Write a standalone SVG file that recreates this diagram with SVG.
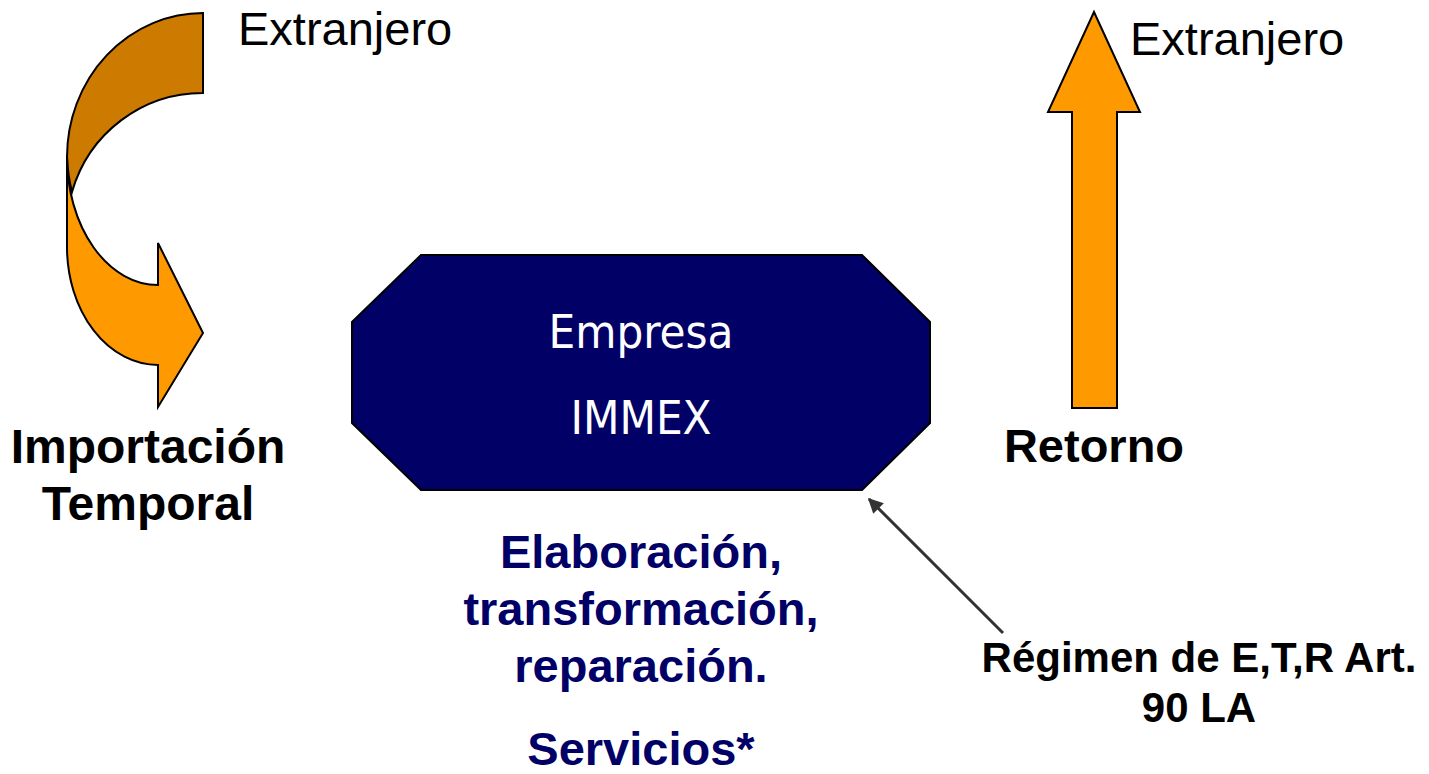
<svg xmlns="http://www.w3.org/2000/svg" width="1429" height="774" viewBox="0 0 1429 774">
<style>
.lbl{font-family:"Liberation Sans",Arial,sans-serif;font-size:47px;fill:#000}
.b{font-weight:bold}
.navy{fill:#000066}
.in{font-family:"DejaVu Sans Condensed","DejaVu Sans",sans-serif;font-size:47px;fill:#fff}
.sh{stroke:#000;stroke-width:2;stroke-linejoin:miter}
</style>
<defs>
<marker id="ah" viewBox="0 0 10 10" refX="9" refY="5" markerWidth="5" markerHeight="5" orient="auto" markerUnits="strokeWidth">
<path d="M0,0 L10,5 L0,10 Z" fill="#333"/>
</marker>
</defs>
<rect width="1429" height="774" fill="#fff"/>
<g id="curved-arrow">
<path class="sh" fill="#CC7A00" d="M203,13 A136,144 0 0 0 67,157 A91,128 0 0 0 72,192 A136,137 0 0 1 203,93 Z"/>
<path class="sh" fill="#FF9900" d="M67,157 L67,247 A91,118 0 0 0 158,365 L158,407 L203,333 L158,243 L158,285 A91,128 0 0 1 67,157 Z"/>
</g>
<g id="up-arrow">
<path class="sh" fill="#FF9900" d="M1094,12 L1140,112 L1117,112 L1117,408 L1072,408 L1072,112 L1048,112 Z"/>
</g>
<g id="empresa">
<polygon class="sh" fill="#000066" points="421,255 862,255 930,322 930,423 862,490 421,490 352,423 352,322"/>
<text class="in" x="641" y="348" text-anchor="middle">Empresa</text>
<text class="in" x="641" y="434" text-anchor="middle">IMMEX</text>
</g>
<g id="labels">
<text class="lbl" x="238" y="45">Extranjero</text>
<text class="lbl" x="1130" y="55">Extranjero</text>
<text class="lbl b" x="148" y="463" text-anchor="middle" style="font-size:48px">Importación</text>
<text class="lbl b" x="148" y="520" text-anchor="middle" style="font-size:48px">Temporal</text>
<text class="lbl b" x="1094" y="462" text-anchor="middle">Retorno</text>
<text class="lbl b navy" x="641" y="568" text-anchor="middle">Elaboración,</text>
<text class="lbl b navy" x="641" y="625" text-anchor="middle">transformación,</text>
<text class="lbl b navy" x="641" y="682" text-anchor="middle">reparación.</text>
<text class="lbl b navy" x="641" y="765" text-anchor="middle">Servicios*</text>
<text class="lbl b" x="1199" y="672" text-anchor="middle" style="font-size:42px">Régimen de E,T,R Art.</text>
<text class="lbl b" x="1199" y="722" text-anchor="middle" style="font-size:42px">90 LA</text>
</g>
<g id="connectors">
<line x1="1003" y1="633" x2="869" y2="499" stroke="#333" stroke-width="3" marker-end="url(#ah)"/>
</g>
</svg>
